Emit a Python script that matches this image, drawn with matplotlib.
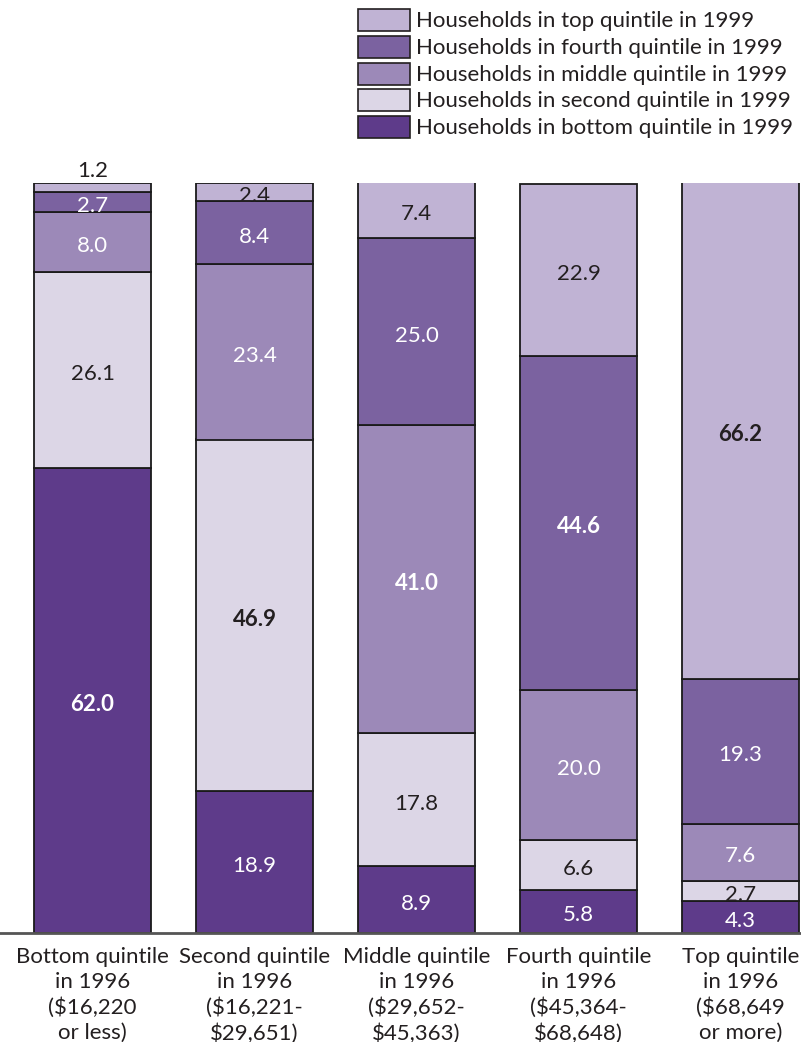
import matplotlib
matplotlib.use("Agg")
import matplotlib.pyplot as plt
from matplotlib.patches import Rectangle
from matplotlib.transforms import offset_copy

plt.rcParams['font.family'] = ['Lato', 'DejaVu Sans']

# Datos
grupos = ["Bottom quintile\nin 1996\n($16,220\nor less)",
          "Second quintile\nin 1996\n($16,221-\n$29,651)",
          "Middle quintile\nin 1996\n($29,652-\n$45,363)",
          "Fourth quintile\nin 1996\n($45,364-\n$68,648)",
          "Top quintile\nin 1996\n($68,649\nor more)"]

# series de abajo hacia arriba
bottom_1999 = [62.0, 18.9, 8.9, 5.8, 4.3]
second_1999 = [26.1, 46.9, 17.8, 6.6, 2.7]
middle_1999 = [8.0, 23.4, 41.0, 20.0, 7.6]
fourth_1999 = [2.7, 8.4, 25.0, 44.6, 19.3]
top_1999 = [1.2, 2.4, 7.4, 22.9, 66.2]

series = [bottom_1999, second_1999, middle_1999, fourth_1999, top_1999]
nombres = ["Households in bottom quintile in 1999",
           "Households in second quintile in 1999",
           "Households in middle quintile in 1999",
           "Households in fourth quintile in 1999",
           "Households in top quintile in 1999"]
colores = ['#5e3b8a', '#dcd6e6', '#9c89b8', '#7b62a0', '#c0b3d4']
color_texto = ['white', '#231f20', 'white', 'white', '#231f20']

W, H = 801, 1042
fig = plt.figure(figsize=(W / 100, H / 100), dpi=100)
ax = fig.add_axes([0, (H - 933) / H, 1, 750 / H])

# las etiquetas quedan un poco por debajo del centro del segmento
trans_etq = offset_copy(ax.transData, fig=fig, x=0, y=-4, units='dots')

x = list(range(len(grupos)))
base = [0.0] * len(grupos)
for k, vals in enumerate(series):
    ax.bar(x, vals, bottom=base, width=117 / 162, color=colores[k],
           edgecolor='#1a1a1a', linewidth=1.3, zorder=2)
    for i, v in enumerate(vals):
        mayor = max(s[i] for s in series) == v
        ymid = base[i] + v / 2
        if v < 2:
            ax.text(i, base[i] + v + 0.3, f"{v:.1f}", ha='center', va='bottom',
                    fontsize=16, color='#231f20', clip_on=False)
        else:
            ax.text(i, ymid, f"{v:.1f}", ha='center', va='center', fontsize=16,
                    color=color_texto[k], fontweight='bold' if mayor else 'normal',
                    transform=trans_etq)
    base = [b + v for b, v in zip(base, vals)]

ax.set_xlim(-92.5 / 162, (W - 92.5) / 162)
ax.set_ylim(0, 100)
for s in ['top', 'right', 'left']:
    ax.spines[s].set_visible(False)
ax.spines['bottom'].set_color('#555555')
ax.spines['bottom'].set_linewidth(2)
ax.set_yticks([])
ax.set_xticks(x)
ax.set_xticklabels(grupos, fontsize=16, color='#231f20', linespacing=1.32)
ax.tick_params(axis='x', length=0, pad=10)

# Leyenda
for j, k in enumerate([4, 3, 2, 1, 0]):
    yc = 20 + 26.8 * j
    fig.add_artist(Rectangle((358 / W, 1 - (yc + 11) / H), 52 / W, 22 / H,
                             transform=fig.transFigure, facecolor=colores[k],
                             edgecolor='#231f20', linewidth=1.2))
    fig.text(416 / W, 1 - (yc + 1) / H, nombres[k], fontsize=16, color='#231f20',
             va='center', ha='left')

plt.savefig("out.png", dpi=100)
